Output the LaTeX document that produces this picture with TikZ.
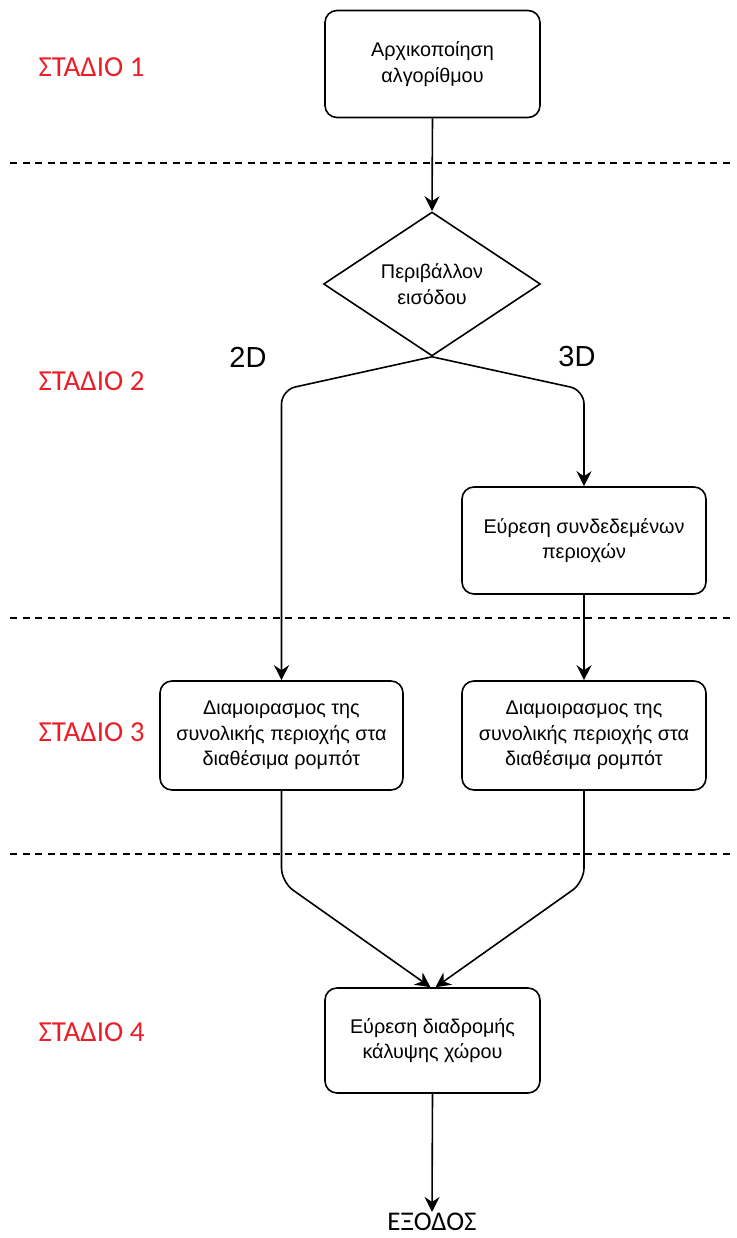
\documentclass[tikz,border=0pt]{standalone}
\usepackage{fontspec}
\setmainfont{Liberation Sans}
\newfontfamily\stagefont{Carlito}
\usetikzlibrary{arrows.meta,shapes.geometric,calc}
\definecolor{stagered}{RGB}{235,30,40}
\begin{document}
\begin{tikzpicture}[x=1pt,y=-1pt,
  box/.style={draw, line width=1.6pt, rounded corners=12pt, minimum width=215pt,
    minimum height=107pt, inner sep=0pt, align=center,
    font=\fontsize{19.8}{25.5}\selectfont},
  decision/.style={draw, line width=1.6pt, diamond, aspect=1.5, minimum width=217pt,
    minimum height=144pt, inner sep=0pt, align=center,
    font=\fontsize{19.8}{25.5}\selectfont},
  stage/.style={anchor=west, text=stagered, font=\stagefont\fontsize{29}{32}\selectfont},
  dim/.style={font=\fontsize{29}{32}\selectfont},
  flow/.style={line width=1.6pt, rounded corners=14pt,
    -{Stealth[length=15pt, width=15pt, inset=5pt]}},
  divider/.style={line width=1.2pt, dash pattern=on 7pt off 5.5pt}]
  \useasboundingbox (0,0) rectangle (736,1238);

  % stage dividers
  \coordinate (s1l) at (10,163);  \coordinate (s1r) at (732,163);
  \coordinate (s2l) at (10,618);  \coordinate (s2r) at (732,618);
  \coordinate (s3l) at (10,854);  \coordinate (s3r) at (732,854);
  \draw[divider] (s1l) -- (s1r);
  \draw[divider] (s2l) -- (s2r);
  \draw[divider] (s3l) -- (s3r);

  % stage labels
  \node[stage] (st1) at (35,67)   {ΣΤΑΔΙΟ 1};
  \node[stage] (st2) at (35,381)  {ΣΤΑΔΙΟ 2};
  \node[stage] (st3) at (35,732)  {ΣΤΑΔΙΟ 3};
  \node[stage] (st4) at (35,1032) {ΣΤΑΔΙΟ 4};

  % flow nodes
  \node[box] (init) at (432.5,64) {Αρχικοποίηση\\αλγορίθμου};
  \node[decision] (env) at (432,284) {Περιβάλλον\\εισόδου};
  \node[dim] (d2) at (248,357) {2D};
  \node[dim] (d3) at (577,357) {3D};
  \node[box, minimum width=244pt] (conn) at (584,540.5) {Εύρεση συνδεδεμένων\\περιοχών};
  \node[box, minimum width=243pt, minimum height=109pt] (part2) at (281.5,735.5)
    {Διαμοιρασμος της\\συνολικής περιοχής στα\\διαθέσιμα ρομπότ};
  \node[box, minimum width=244pt, minimum height=109pt] (part3) at (584,735.5)
    {Διαμοιρασμος της\\συνολικής περιοχής στα\\διαθέσιμα ρομπότ};
  \node[box, minimum height=105pt] (path) at (432.5,1040.5) {Εύρεση διαδρομής\\κάλυψης χώρου};
  \node[font=\stagefont\fontsize{27}{30}\selectfont, inner sep=1pt] (out) at (432,1222) {ΕΞΟΔΟΣ};

  % connectors
  \draw[flow] (init.south) -- (env.north);
  \draw[flow] (env.south) -- (part2.north |- 0,390) -- (part2.north);
  \draw[flow] (env.south) -- (conn.north |- 0,390) -- (conn.north);
  \draw[flow] (conn.south) -- (part3.north);
  \draw[flow] (part2.south) -- (part2.south |- 0,882) -- ($(path.north)+(-2,0)$);
  \draw[flow] (part3.south) -- (part3.south |- 0,882) -- ($(path.north)+(3,0)$);
  \draw[flow] (path.south) -- (out.north);
\end{tikzpicture}
\end{document}
